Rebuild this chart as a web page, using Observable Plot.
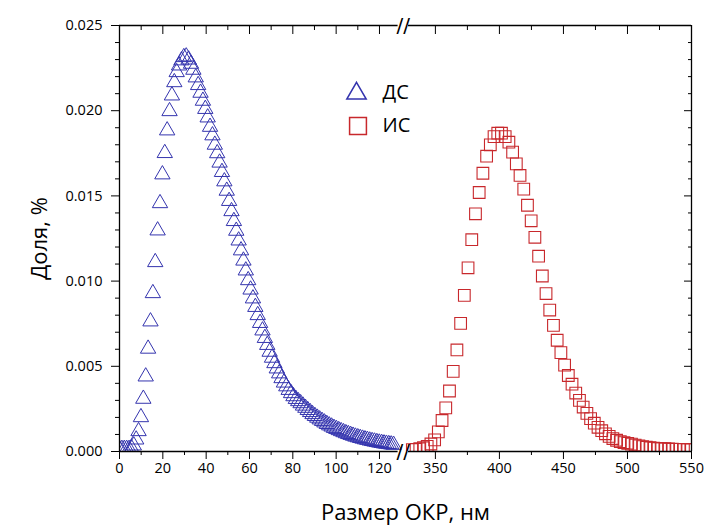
<!DOCTYPE html>
<html><head><meta charset="utf-8">
<script src="https://cdn.jsdelivr.net/npm/d3@7"></script>
<script src="https://cdn.jsdelivr.net/npm/@observablehq/plot@0.6"></script>
<style>body{margin:0;background:#fff}#chart{width:707px;height:529px}</style>
</head><body><div id="chart"></div>
<script>
// ДС series (размер, нм ; доля, %)
const dsSize = [0,1.1,2.2,3.3,4.4,5.5,6.6,7.7,8.8,9.9,11,12.1,13.2,14.3,15.4,16.5,17.6,18.7,19.8,20.9,22,23.1,24.2,25.3,26.4,27.5,28.6,29.7,30.8,31.9,33,34.1,35.2,36.3,37.4,38.5,39.6,40.7,41.8,42.9,44,45.1,46.2,47.3,48.4,49.5,50.6,51.7,52.8,53.9,55,56.1,57.2,58.3,59.4,60.5,61.6,62.7,63.8,64.9,66,67.1,68.2,69.3,70.4,71.5,72.6,73.7,74.8,75.9,77,78.1,79.2,80.3,81.4,82.5,83.6,84.7,85.8,86.9,88,89.1,90.2,91.3,92.4,93.5,94.6,95.7,96.8,97.9,99,100.1,101.2,102.3,103.4,104.5,105.6,106.7,107.8,108.9,110,111.1,112.2,113.3,114.4,115.5,116.6,117.7,118.8,119.9,121,122.1,123.2,124.3,125.4,126.5];
const dsShare = [0.00015,0.00015,0.00015,0.00015,0.00015,0.0002,0.00035,0.0007,0.00119,0.00201,
0.00309,0.0044,0.00603,0.00763,0.00929,0.01111,0.01297,0.01457,0.01626,0.01751,
0.01884,0.01997,0.02089,0.02167,0.02226,0.02265,0.02295,0.02314,0.02318,0.023,
0.02275,0.0224,0.02195,0.0215,0.02105,0.02058,0.0201,0.0196,0.01905,0.01855,
0.018,0.0175,0.01695,0.0164,0.01585,0.0153,0.0147,0.0141,0.01352,0.01295,
0.01238,0.0118,0.0112,0.01062,0.01005,0.0095,0.00898,0.00848,0.008,0.00754,
0.0071,0.00666,0.00625,0.00585,0.0055,0.00518,0.00487,0.00458,0.0043,0.00404,
0.00382,0.00361,0.00342,0.00324,0.00308,0.00295,0.00283,0.00269,0.00256,0.00243,
0.00231,0.00219,0.00208,0.00198,0.00188,0.00179,0.0017,0.00161,0.00153,0.00146,
0.00138,0.00132,0.00125,0.00119,0.00113,0.00107,0.00102,0.00097,0.00092,0.00087,
0.00083,0.00079,0.00075,0.00071,0.00068,0.00064,0.00061,0.00058,0.00055,0.00052,
0.0005,0.00047,0.00045,0.00043,0.00041,0.00039];
// ИС series
const isSize = [332,334.9,337.8,340.7,343.6,346.5,349.4,352.3,355.2,358.1,361,363.9,366.8,369.7,372.6,375.5,378.4,381.3,384.2,387.1,390,392.9,395.8,398.7,401.6,404.5,407.4,410.3,413.2,416.1,419,421.9,424.8,427.7,430.6,433.5,436.4,439.3,442.2,445.1,448,450.9,453.8,456.7,459.6,462.5,465.4,468.3,471.2,474.1,477,479.9,482.8,485.7,488.6,491.5,494.4,497.3,500.2,503.1,506,508.9,511.8,514.7,517.6,520.5,523.4,526.3,529.2,532.1,535,537.9,540.8,543.7,546.6,549.5];
const isShare = [0.00011,0.00013,0.00016,0.00022,0.0003,0.00044,0.00068,0.00115,0.00182,0.00256,
0.00355,0.0047,0.00596,0.00752,0.00916,0.01078,0.01243,0.01395,0.0152,0.01633,
0.01733,0.018,0.01848,0.01868,0.01868,0.01848,0.01815,0.01757,0.01688,0.0162,
0.0154,0.01445,0.01354,0.01257,0.01146,0.0103,0.00927,0.0083,0.0074,0.00653,
0.0058,0.00507,0.00446,0.00395,0.00343,0.003,0.00261,0.00224,0.00193,0.00166,
0.00142,0.00122,0.00104,0.00089,0.00076,0.00066,0.00058,0.00052,0.00048,0.00043,
0.00038,0.00033,0.00029,0.00025,0.00022,0.0002,0.00018,0.00017,0.00016,0.00015,
0.00014,0.00013,0.00013,0.00012,0.00011,0.00011];

const seriesNames = ["ДС", "ИС"];
const leftMajor = [0,20,40,60,80,100,120];
const leftMinor = [10,30,50,70,90,110];
const rightMajor = [350,400,450,500,550];
const rightMinor = [375,425,475,525];
const yMajor = [0,0.005,0.01,0.015,0.02,0.025];
const yMinor = [0.001,0.002,0.003,0.004,0.006,0.007,0.008,0.009,0.011,0.012,0.013,0.014,0.016,0.017,0.018,0.019,0.021,0.022,0.023,0.024];
const xBreak = [128.6, 329];   // axis break: end of left part, start of right part
const xEnds = [0, 550];
const yEnds = [0, 0.025];
const xTitle = "Размер ОКР, нм";
const yTitle = "Доля, %";

const blue = "#3434ae", red = "#c8282c";
const ds = dsSize.map((x, i) => ({x, y: dsShare[i]}));
const is = isSize.map((x, i) => ({x, y: isShare[i]}));
const segs = yEnds.flatMap(y => [{y, x1: xEnds[0], x2: xBreak[0]}, {y, x1: xBreak[1], x2: xEnds[1]}]);
const font = "Open Sans";

const chart = Plot.plot({
  width: 707, height: 529,
  marginLeft: 119, marginRight: 16, marginTop: 25, marginBottom: 78,
  style: {fontFamily: font, background: "#fff", color: "#000"},
  x: {type: "linear", domain: [xEnds[0], xBreak[0], xBreak[1], xEnds[1]], range: [119, 397.6, 408, 691]},
  y: {domain: yEnds},
  marks: [
    Plot.dot(ds, {x: "x", y: "y", symbol: "triangle", r: 5.7, stroke: blue, strokeWidth: 1, fill: "none", clip: true}),
    Plot.dot(is, {x: "x", y: "y", symbol: "square", r: 6.6, stroke: red, strokeWidth: 1.1, fill: "none", clip: true}),
    Plot.ruleX(xEnds, {stroke: "#000", strokeWidth: 1.3}),
    Plot.ruleY(segs, {y: "y", x1: "x1", x2: "x2", stroke: "#000", strokeWidth: 1.3}),
    Plot.text(yEnds, {x: (xBreak[0] + xBreak[1]) / 2, y: d => d, text: () => "//", fontSize: 20, fontFamily: "DejaVu Sans", letterSpacing: 1, fill: "#000"}),
    // bottom axis
    Plot.axisX(leftMajor, {anchor: "bottom", tickSize: 8, tickPadding: 3, fontSize: 14.5, label: null}),
    Plot.axisX(rightMajor, {anchor: "bottom", tickSize: 8, tickPadding: 3, fontSize: 14.5, label: null}),
    Plot.axisX(leftMinor.concat(rightMinor), {anchor: "bottom", tickSize: 4, fill: "none", label: null}),
    // top axis (inward ticks)
    Plot.axisX(leftMajor.concat(rightMajor), {anchor: "top", tickSize: -8, fill: "none", label: null}),
    Plot.axisX(leftMinor.concat(rightMinor), {anchor: "top", tickSize: -4, fill: "none", label: null}),
    // left axis
    Plot.axisY(yMajor, {anchor: "left", tickSize: 8, tickPadding: 9, fontSize: 14.5, tickFormat: d3.format(".3f"), label: null}),
    Plot.axisY(yMinor, {anchor: "left", tickSize: 4, fill: "none", label: null}),
    // right axis (inward ticks)
    Plot.axisY(yMajor, {anchor: "right", tickSize: -8, fill: "none", label: null}),
    Plot.axisY(yMinor, {anchor: "right", tickSize: -4, fill: "none", label: null}),
    // titles
    Plot.text([xTitle], {frameAnchor: "bottom", dy: 61, lineAnchor: "middle", fontSize: 22, fill: "#000"}),
    Plot.text([yTitle], {frameAnchor: "left", dx: -80, textAnchor: "middle", lineAnchor: "middle", rotate: -90, fontSize: 22, fill: "#000"}),
    // legend
    Plot.dot([seriesNames[0]], {frameAnchor: "top-left", dx: 237, dy: 68, symbol: "triangle", r: 7.2, stroke: blue, strokeWidth: 1.5, fill: "none"}),
    Plot.dot([seriesNames[1]], {frameAnchor: "top-left", dx: 238.5, dy: 100.5, symbol: "square", r: 9.5, stroke: red, strokeWidth: 1.5, fill: "none"}),
    Plot.text([seriesNames[0]], {frameAnchor: "top-left", dx: 263, dy: 67, fontSize: 20, textAnchor: "start", lineAnchor: "middle", fill: "#000"}),
    Plot.text([seriesNames[1]], {frameAnchor: "top-left", dx: 263, dy: 100, fontSize: 20, textAnchor: "start", lineAnchor: "middle", fill: "#000"})
  ]
});
document.getElementById("chart").appendChild(chart);
</script>
</body></html>
